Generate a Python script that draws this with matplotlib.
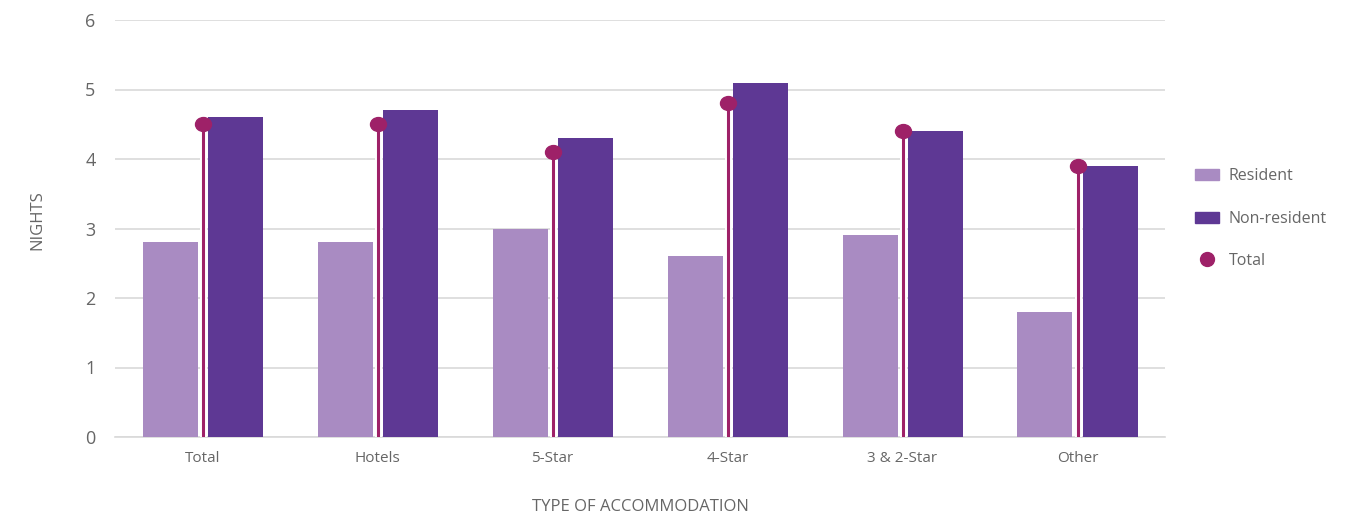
import matplotlib
matplotlib.use("Agg")
import matplotlib.pyplot as plt
import numpy as np
from matplotlib.path import Path
from matplotlib.patches import Patch
from matplotlib.lines import Line2D
import matplotlib.transforms as mtransforms

categories = ["Total", "Hotels", "5-Star", "4-Star", "3 & 2-Star", "Other"]
resident = [2.8, 2.8, 3.0, 2.6, 2.9, 1.8]
non_resident = [4.6, 4.7, 4.3, 5.1, 4.4, 3.9]
total = [4.5, 4.5, 4.1, 4.8, 4.4, 3.9]
y_ticks = [0, 1, 2, 3, 4, 5, 6]

c_res = "#A98BC2"
c_non = "#5E3894"
c_tot = "#9E2168"
c_text = "#666666"

plt.rcParams['font.family'] = ['Open Sans', 'DejaVu Sans']

fig = plt.figure(figsize=(13.65, 5.19), dpi=100)
ax = fig.add_axes([115/1365, 1-437/519, 1050/1365, 417/519])

x = np.arange(len(categories))
w = 55/175
off = 65/2/175
ax.bar(x - off, resident, width=w, color=c_res, zorder=3)
ax.bar(x + off, non_resident, width=w, color=c_non, zorder=3)
ax.vlines(x, 0, total, color="white", linewidth=5, zorder=4)
ax.vlines(x, 0, total, color=c_tot, linewidth=2.2, zorder=5)
ell = Path.unit_circle().transformed(mtransforms.Affine2D().scale(1.15, 1.0))
ax.plot(x, total, linestyle="none", marker=ell, markersize=11.5, color=c_tot, zorder=6)

ax.set_xlim(-0.5, len(categories) - 0.5)
ax.set_ylim(0, 6)
ax.set_yticks(y_ticks)
ax.set_xticks(x)
ax.set_xticklabels(categories, fontsize=11, color=c_text)
ax.tick_params(axis='y', length=0, pad=14, labelsize=13, labelcolor=c_text)
ax.tick_params(axis='x', length=0, pad=10)
ax.yaxis.grid(True, color="#D9D9D9", linewidth=1.2, zorder=0)
ax.set_axisbelow(True)
for s in ["top", "right", "left"]:
    ax.spines[s].set_visible(False)
ax.spines["bottom"].set_color("#D9D9D9")
ax.spines["bottom"].set_linewidth(1.2)

fig.text(37/1365, 1-220/519, "NIGHTS", rotation=90, ha="center", va="center",
         fontsize=12, color=c_text)
fig.text(640/1365, 1-507/519, "TYPE OF ACCOMMODATION", ha="center", va="center",
         fontsize=12, color=c_text)

handles = [Patch(color=c_res, label="Resident"),
           Patch(color=c_non, label="Non-resident"),
           Line2D([], [], linestyle="none", marker="o", markersize=10, color=c_tot, label="Total")]
leg = fig.legend(handles=handles, loc="upper left", bbox_to_anchor=(1181/1365, 1-154/519),
                 frameon=False, fontsize=11.5, labelspacing=1.65, handlelength=1.5,
                 handleheight=0.7, handletextpad=0.6)
for t in leg.get_texts():
    t.set_color(c_text)

fig.savefig("out.png", dpi=100, facecolor="white")
